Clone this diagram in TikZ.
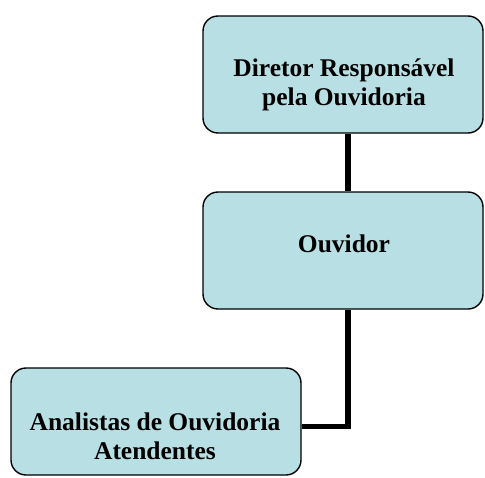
\documentclass[tikz,border=0pt]{standalone}
\usepackage{fontspec}
\setmainfont{Liberation Serif}
\definecolor{boxfill}{RGB}{184,223,227}
\begin{document}
\begin{tikzpicture}[x=1pt,y=-1pt,
  orgbox/.style={draw=black,line width=1.4pt,fill=boxfill,rounded corners=15pt,inner sep=0pt,anchor=center},
  boxtext/.style={align=center,font=\fontsize{25.5pt}{28.5pt}\selectfont\bfseries,inner sep=0pt},
  conn/.style={line width=5.5pt,black}]
\useasboundingbox (0,0) rectangle (485,477);
\node[orgbox,minimum width=280pt,minimum height=117pt] (dir) at (343,74.5) {};
\node[orgbox,minimum width=280pt,minimum height=117pt] (ouv) at (343,250.5) {};
\node[orgbox,minimum width=290pt,minimum height=107pt] (ana) at (156,421.5) {};
\node[boxtext] (dirt) at (344,85) {Diretor Responsável\\pela Ouvidoria};
\node[boxtext] (ouvt) at (344,243.5) {Ouvidor};
\node[boxtext] (anat) at (155,436.5) {Analistas de Ouvidoria\\Atendentes};
\coordinate (cx) at (348,0);
\coordinate (bend) at (348,426.5);
\draw[conn] (dir.south -| cx) -- (ouv.north -| cx);
\draw[conn] (ouv.south -| cx) -- (bend) -- (ana.east |- bend);
\end{tikzpicture}
\end{document}
